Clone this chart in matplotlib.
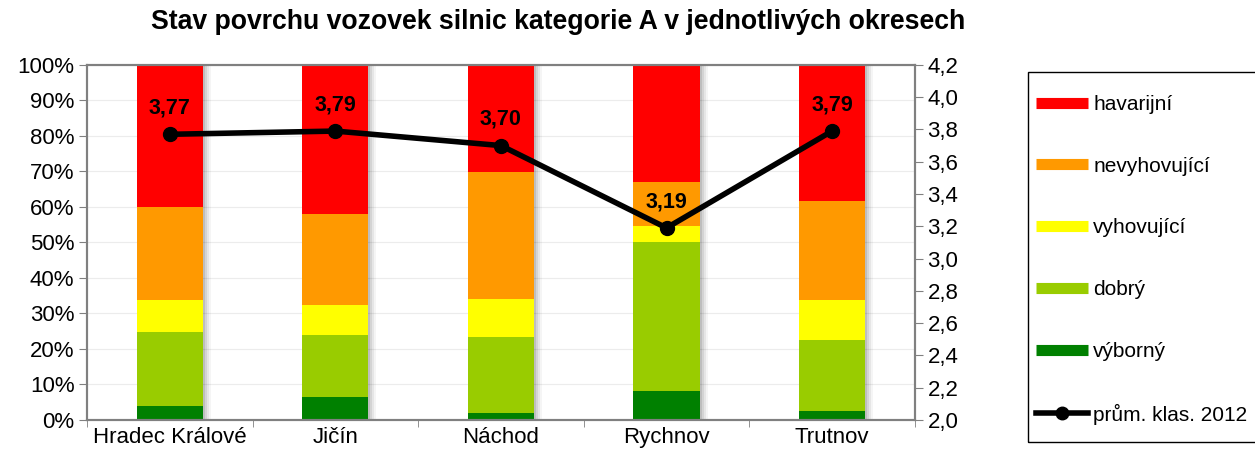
import matplotlib.pyplot as plt
from matplotlib.lines import Line2D
from matplotlib.patches import Rectangle
from matplotlib.ticker import FuncFormatter, MultipleLocator
import numpy as np

plt.rcParams['font.family'] = ['Liberation Sans', 'DejaVu Sans']

okresy = ['Hradec Králové', 'Jičín', 'Náchod', 'Rychnov', 'Trutnov']
vyborny = [3.8, 6.6, 2.1, 8.3, 2.4]
dobry = [21.0, 17.2, 21.4, 41.9, 20.1]
vyhovujici = [9.0, 8.5, 10.6, 4.5, 11.3]
nevyhovujici = [26.3, 25.6, 35.8, 12.4, 28.0]
havarijni = [39.9, 42.1, 30.1, 32.9, 38.2]
prumer = [3.77, 3.79, 3.70, 3.19, 3.79]

serie = [('výborný', vyborny, '#008000'),
         ('dobrý', dobry, '#99cc00'),
         ('vyhovující', vyhovujici, '#ffff00'),
         ('nevyhovující', nevyhovujici, '#ff9900'),
         ('havarijní', havarijni, '#ff0000')]

fig = plt.figure(figsize=(12.55, 4.57), dpi=100)
ax = fig.add_axes([0.0693, 0.081, 0.6597, 0.777])
x = np.arange(len(okresy))
w = 0.4

# stin za sloupci
for i, a in enumerate([0.10, 0.08, 0.06, 0.04]):
    ax.bar(x + 0.012 * (i + 1), 100, w, color='black', alpha=a, zorder=1, linewidth=0)

dole = np.zeros(len(okresy))
for nazev, vals, barva in serie:
    ax.bar(x, vals, w, bottom=dole, color=barva, zorder=2, linewidth=0)
    dole += np.array(vals)

ax.set_ylim(0, 100)
ax.set_xlim(-0.5, 4.5)
ax.yaxis.set_major_locator(MultipleLocator(10))
ax.yaxis.set_major_formatter(FuncFormatter(lambda v, p: f'{int(round(v))}%'))
ax.grid(axis='y', color='#ececec', lw=0.8)
ax.set_axisbelow(True)
ax.set_xticks(x)
ax.set_xticklabels(okresy, fontsize=16)
ax.set_xticks(np.arange(-0.5, 5, 1), minor=True)
ax.tick_params(axis='x', which='major', length=0, pad=5)
ax.tick_params(axis='x', which='minor', length=5, color='#808080')
ax.tick_params(axis='y', labelsize=16, length=6, color='#808080', pad=3)
for s in ax.spines.values():
    s.set_color('#808080')
    s.set_linewidth(1.5)

ax2 = ax.twinx()
ax2.plot(x, prumer, color='black', lw=4, marker='o', ms=10, zorder=5)
for xi, v in zip(x, prumer):
    ax2.annotate(f'{v:.2f}'.replace('.', ','), (xi, v), xytext=(0, 19),
                 textcoords='offset points', ha='center', va='center',
                 fontsize=15.5, fontweight='bold')
ax2.set_ylim(2.0, 4.2)
ax2.yaxis.set_major_locator(MultipleLocator(0.2))
ax2.yaxis.set_major_formatter(FuncFormatter(lambda v, p: f'{v:.1f}'.replace('.', ',')))
ax2.tick_params(axis='y', labelsize=16, length=6, color='#808080', pad=3)
for s in ax2.spines.values():
    s.set_color('#808080')
    s.set_linewidth(1.5)

fig.text(0.445, 0.952, 'Stav povrchu vozovek silnic kategorie A v jednotlivých okresech',
         ha='center', va='center', fontsize=19.2, fontweight='bold')

# ramecek legendy
fig.add_artist(Rectangle((1028 / 1255, 1 - 442 / 457), 240 / 1255, 370 / 457,
                         transform=fig.transFigure, fill=False, edgecolor='black', lw=1.0))

handles = [Line2D([], [], color=b, lw=8, solid_capstyle='butt') for _, _, b in serie[::-1]]
labels = [n for n, _, _ in serie[::-1]]
handles.append(Line2D([], [], color='black', lw=4, marker='o', ms=9))
labels.append('prům. klas. 2012')
leg = fig.legend(handles, labels, loc='upper left', bbox_to_anchor=(1036 / 1255, 1 - 95 / 457),
                 fontsize=15, handlelength=2.5, handletextpad=0.25, labelspacing=2.05,
                 borderpad=0, borderaxespad=0, frameon=False)

fig.savefig('out.png', dpi=100)
